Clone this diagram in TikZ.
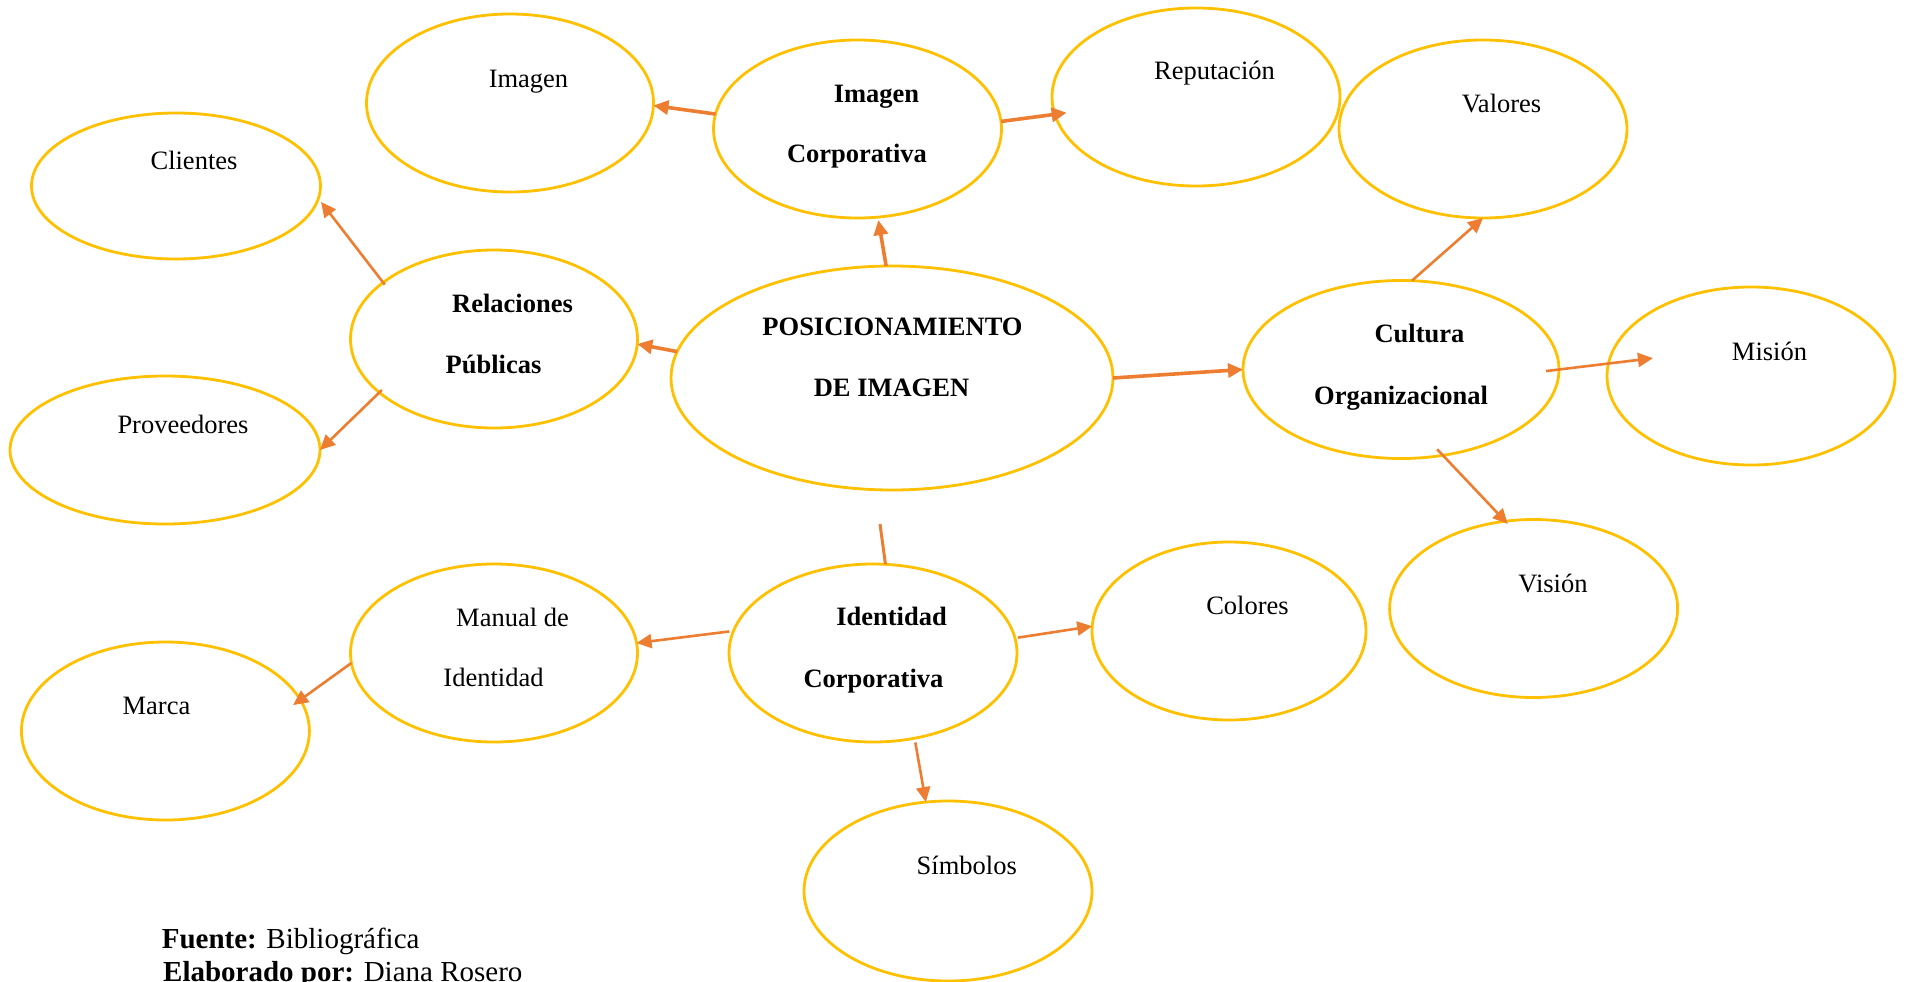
\documentclass[tikz,border=0pt]{standalone}
\usepackage{fontspec}
\setmainfont{Liberation Serif}
\usetikzlibrary{shapes.geometric,arrows.meta}
\definecolor{ringyellow}{HTML}{FFC000}
\definecolor{linkorange}{HTML}{ED7D31}

\begin{document}
\begin{tikzpicture}[x=1pt,y=-1pt,
  bubble/.style={ellipse, draw=ringyellow, line width=2.8pt, inner sep=0pt, outer sep=0pt,
                 minimum width=288pt, minimum height=178pt},
  lbl/.style={anchor=base, inner sep=0pt, font=\fontsize{26.5}{32}\selectfont},
  blbl/.style={anchor=base, inner sep=0pt, font=\fontsize{26.5}{32}\selectfont\bfseries},
  note/.style={anchor=base west, inner sep=0pt, font=\fontsize{29}{34}\selectfont},
  link/.style={draw=linkorange, line width=2.6pt, -{Triangle[length=15pt,width=14pt]}},
  boldlink/.style={link, line width=3.6pt},
  stubline/.style={draw=linkorange, line width=3pt},
]
\useasboundingbox (0,0) rectangle (1906,982);

% ---- ellipses ----
\node[bubble, minimum width=287pt] (img) at (510,103) {};
\node[bubble] (ic) at (857.5,129) {};
\node[bubble] (rep) at (1196,97) {};
\node[bubble] (val) at (1483,129) {};
\node[bubble, minimum width=289pt, minimum height=146pt] (cli) at (176,186) {};
\node[bubble, minimum width=287pt] (rp) at (494,339) {};
\node[bubble, minimum width=442pt, minimum height=224pt] (pos) at (892,378) {};
\node[bubble, minimum width=316pt] (cult) at (1401,369.5) {};
\node[bubble] (mis) at (1751,376) {};
\node[bubble, minimum width=310pt, minimum height=148pt] (prov) at (165,450) {};
\node[bubble] (vis) at (1533.6,608.5) {};
\node[bubble, minimum width=274pt] (col) at (1229,631) {};
\node[bubble, minimum width=287pt] (man) at (494,653) {};
\node[bubble] (idc) at (873,653) {};
\node[bubble] (mar) at (165.4,731) {};
\node[bubble, minimum height=180pt] (sim) at (948,891) {};

% ---- labels ----
\node[lbl] (t-img) at (528.5,87.5) {Imagen};
\node[lbl] (t-cli) at (194,169) {Clientes};
\node[blbl] (t-rp1) at (512.5,312.5) {Relaciones};
\node[blbl] (t-rp2) at (493.5,373) {Públicas};
\node[lbl] (t-prov) at (183,433) {Proveedores};
\node[blbl] (t-ic1) at (876.5,102) {Imagen};
\node[blbl] (t-ic2) at (857,162) {Corporativa};
\node[lbl] (t-rep) at (1214.5,80) {Reputación};
\node[blbl] (t-pos1) at (892.5,335) {POSICIONAMIENTO};
\node[blbl] (t-pos2) at (891.5,396) {DE IMAGEN};
\node[lbl] (t-val) at (1501.5,112) {Valores};
\node[blbl] (t-cult1) at (1419.5,342) {Cultura};
\node[blbl] (t-cult2) at (1401,404) {Organizacional};
\node[lbl] (t-mis) at (1769.5,360) {Misión};
\node[lbl] (t-vis) at (1553,592) {Visión};
\node[lbl] (t-man1) at (512.5,626) {Manual de};
\node[lbl] (t-man2) at (493.5,686) {Identidad};
\node[lbl] (t-mar) at (156.5,714) {Marca};
\node[blbl] (t-idc1) at (891.6,625) {Identidad};
\node[blbl] (t-idc2) at (873.5,687) {Corporativa};
\node[lbl] (t-col) at (1247.5,614) {Colores};
\node[lbl] (t-sim) at (966.8,874) {Símbolos};

% ---- source note (last line runs off the lower edge) ----
\node[note] (src) at (161.6,948) {\textbf{Fuente:} Bibliográfica};
\node[note] (auth) at (163,981) {\textbf{Elaborado por:} Diana Rosero};

% ---- connectors ----
\draw[boldlink] (ic.174.8) -- (img.-1.6);
\draw[boldlink, shorten >=-12pt] (ic.3.2) -- (rep.187.4);
\draw[boldlink, shorten >=3pt] (pos.93.1) -- (ic.-77.2);
\draw[boldlink] (pos.173.7) -- (rp.-2.4);
\draw[boldlink] (pos.-0.5) -- (cult.180);

\draw[link, shorten <=-2.7pt, shorten >=4.4pt] (rp.153.9) -- (cli.-5);
\draw[link, shorten <=-3.5pt] (rp.205.6) -- (prov.0.7);

\draw[link] (cult.83) -- (val.-90.6);
\draw[link, shorten <=-13pt, shorten >=-44.8pt] (cult.0.6) -- (mis.175.1);
\draw[link, shorten <=-8.3pt, shorten >=-3.7pt] (cult.-64.7) -- (vis.108.5);

\draw[link, shorten <=4.2pt] (idc.171.3) -- (man.4.5);
\draw[link, shorten >=-8.9pt] (man.184.4) -- (mar.13.4);
\draw[link, shorten <=2.8pt] (idc.6.3) -- (col.178.8);
\draw[link, shorten <=4.3pt] (idc.-64.8) -- (sim.104.4);

\coordinate (stub) at (880,524);
\draw[stubline] (stub) -- (idc.82.7);
\end{tikzpicture}
\end{document}
